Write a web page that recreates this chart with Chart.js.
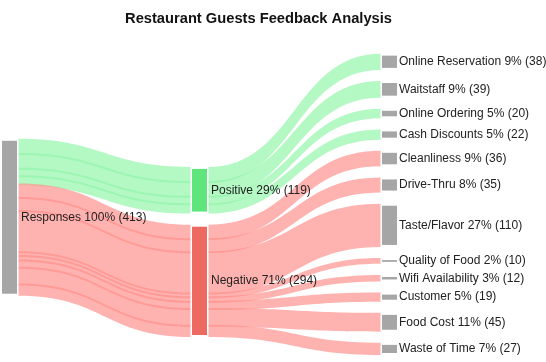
<!DOCTYPE html>
<html>
<head>
<meta charset="utf-8">
<script src="https://cdn.jsdelivr.net/npm/chart.js@4.4.1/dist/chart.umd.min.js"></script>
<style>
  html, body { margin: 0; padding: 0; background: #fff; }
  #wrap { width: 546px; height: 362px; }
</style>
</head>
<body>
<div id="wrap"><canvas id="feedback-chart"></canvas></div>
<script>
// Datos del diagrama
const rootLabel = 'Responses';
const sentiments = ['Positive', 'Negative'];
const categories = [
    'Online Reservation', 'Waitstaff', 'Online Ordering', 'Cash Discounts',
    'Cleanliness', 'Drive-Thru', 'Taste/Flavor', 'Quality of Food',
    'Wifi Availability', 'Customer', 'Food Cost', 'Waste of Time'
];
const categoryCounts = [38, 39, 20, 22, 36, 35, 110, 10, 12, 19, 45, 27];
const categorySentiment = [
    'Positive', 'Positive', 'Positive', 'Positive',
    'Negative', 'Negative', 'Negative', 'Negative',
    'Negative', 'Negative', 'Negative', 'Negative'
];

const FONT = "'Liberation Sans', Arial, sans-serif";
const NODE_PAD = 35;              // separación entre nodos (unidades)
const COL_OFFSET = [227, 302, 0]; // inicio de cada columna (unidades)
const NODE_W = 15;
const LABEL_GAP = [4, 4, 2];

const nodeColors = { Responses: '#a6a6a6', Positive: '#5ee57c', Negative: '#ec6a61' };
const categoryColor = '#a6a6a6';
const linkColors = {
    Positive: 'rgba(143, 245, 167, 0.67)',
    Negative: 'rgba(255, 142, 137, 0.67)'
};

const total = categoryCounts.reduce((a, b) => a + b, 0);
const pct = v => Math.round(v / total * 100) + '%';

// Nodos por columna
const columns = [
    [{ name: rootLabel, value: total, color: nodeColors[rootLabel] }],
    sentiments.map(s => ({
        name: s,
        value: categoryCounts.filter((_, i) => categorySentiment[i] === s).reduce((a, b) => a + b, 0),
        color: nodeColors[s]
    })),
    categories.map((c, i) => ({ name: c, value: categoryCounts[i], color: categoryColor }))
];

columns.forEach((col, ci) => {
    let y = COL_OFFSET[ci];
    col.forEach(n => {
        n.col = ci;
        n.y0 = y;
        n.y1 = y + n.value;
        n.outPos = y;
        n.inPos = y;
        y = n.y1 + NODE_PAD;
    });
});

const findNode = name => columns.flat().find(n => n.name === name);

// Enlaces: raíz -> sentimiento (uno por categoría), sentimiento -> categoría
const links = [];
categories.forEach((c, i) => {
    links.push({ source: findNode(rootLabel), target: findNode(categorySentiment[i]), value: categoryCounts[i], sentiment: categorySentiment[i] });
});
categories.forEach((c, i) => {
    links.push({ source: findNode(categorySentiment[i]), target: findNode(c), value: categoryCounts[i], sentiment: categorySentiment[i] });
});
links.forEach(l => {
    l.sy = l.source.outPos; l.source.outPos += l.value;
    l.ty = l.target.inPos; l.target.inPos += l.value;
});

const yMax = total + (categories.length - 1) * NODE_PAD;

const sankeyPlugin = {
    id: 'sankey',
    afterDatasetsDraw(chart) {
        const { ctx, scales: { x, y } } = chart;
        const left = n => x.getPixelForValue(n.col);
        ctx.save();

        // Enlaces
        links.forEach(l => {
            const x0 = left(l.source) + NODE_W + 1;
            const x1 = left(l.target) - 1;
            const xm = (x0 + x1) / 2;
            const a0 = y.getPixelForValue(l.sy) - 1;
            const b0 = y.getPixelForValue(l.sy + l.value) + 1;
            const a1 = y.getPixelForValue(l.ty) - 1;
            const b1 = y.getPixelForValue(l.ty + l.value) + 1;
            ctx.fillStyle = linkColors[l.sentiment];
            ctx.beginPath();
            ctx.moveTo(x0, a0);
            ctx.bezierCurveTo(xm, a0, xm, a1, x1, a1);
            ctx.lineTo(x1, b1);
            ctx.bezierCurveTo(xm, b1, xm, b0, x0, b0);
            ctx.closePath();
            ctx.fill();
        });

        // Nodos y etiquetas
        columns.flat().forEach(n => {
            const nx = left(n);
            const top = y.getPixelForValue(n.y0);
            const bottom = y.getPixelForValue(n.y1);
            ctx.fillStyle = '#ffffff';
            ctx.fillRect(nx - 1.5, top - 1, NODE_W + 3, bottom - top + 2);
            ctx.fillStyle = n.color;
            const h = Math.max(bottom - top - 2, 1.5);
            ctx.fillRect(nx, (top + bottom) / 2 - h / 2, NODE_W, h);

            ctx.fillStyle = '#222222';
            ctx.font = '12px ' + FONT;
            ctx.textAlign = 'left';
            ctx.textBaseline = 'middle';
            ctx.fillText(`${n.name} ${pct(n.value)} (${n.value})`, nx + NODE_W + LABEL_GAP[n.col], (top + bottom) / 2);
        });
        ctx.restore();
    }
};

new Chart(document.getElementById('feedback-chart'), {
    type: 'scatter',
    data: { datasets: [] },
    options: {
        responsive: true,
        maintainAspectRatio: false,
        animation: false,
        layout: { padding: { left: 2, right: 31, top: 0, bottom: 8 } },
        scales: {
            x: { type: 'linear', min: 0, max: 2.7, display: false },
            y: { type: 'linear', min: 0, max: yMax, reverse: true, display: false }
        },
        plugins: {
            legend: { display: false },
            tooltip: { enabled: false },
            title: {
                display: true,
                text: 'Restaurant Guests Feedback Analysis',
                color: '#111111',
                font: { family: FONT, size: 14.7, weight: 'bold' },
                padding: { top: 10, bottom: 27 }
            }
        }
    },
    plugins: [sankeyPlugin]
});
</script>
</body>
</html>
